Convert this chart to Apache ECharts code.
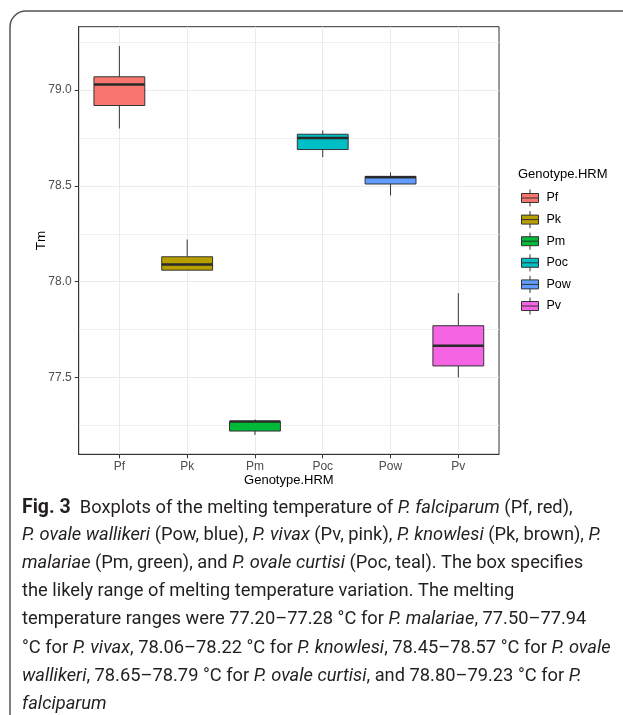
<!DOCTYPE html>
<html>
<head>
<meta charset="utf-8">
<script src="https://cdn.jsdelivr.net/npm/echarts@6/dist/echarts.min.js"></script>
<style>
  html, body { margin: 0; padding: 0; background: #fff; }
  #chart { width: 623px; height: 715px; }
</style>
</head>
<body>
<div id="chart"></div>
<script>
// Boxplot data
var categories = ['Pf', 'Pk', 'Pm', 'Poc', 'Pow', 'Pv'];
var mins    = [78.80, 78.06, 77.20, 78.65, 78.45, 77.50];
var q1s     = [78.92, 78.06, 77.22, 78.69, 78.51, 77.56];
var medians = [79.03, 78.09, 77.27, 78.75, 78.545, 77.665];
var q3s     = [79.07, 78.13, 77.27, 78.77, 78.55, 77.77];
var maxs    = [79.23, 78.22, 77.28, 78.79, 78.57, 77.94];
var colors  = ['#F8766D', '#B79F00', '#00BA38', '#00BFC4', '#619CFF', '#F564E3'];

var yMajor = [77.5, 78.0, 78.5, 79.0];
var yMinor = [77.25, 77.75, 78.25, 78.75, 79.25];
var xTicks = [1, 2, 3, 4, 5, 6];

var chart = echarts.init(document.getElementById('chart'));

// box + whiskers, ggplot style (no whisker caps)
function renderBox(params, api) {
  var x = api.value(0);
  var pMin = api.coord([x, api.value(1)]);
  var pQ1 = api.coord([x, api.value(2)]);
  var pMed = api.coord([x, api.value(3)]);
  var pQ3 = api.coord([x, api.value(4)]);
  var pMax = api.coord([x, api.value(5)]);
  var w = api.size([0.75, 0])[0];
  var cx = pMed[0];
  var fill = api.visual('color');
  return {
    type: 'group',
    children: [
      { type: 'line', shape: { x1: cx, y1: pMax[1], x2: cx, y2: pQ3[1] }, style: { stroke: '#333', lineWidth: 1 } },
      { type: 'line', shape: { x1: cx, y1: pQ1[1], x2: cx, y2: pMin[1] }, style: { stroke: '#333', lineWidth: 1 } },
      { type: 'rect', shape: { x: cx - w / 2, y: pQ3[1], width: w, height: pQ1[1] - pQ3[1] }, style: { fill: fill, stroke: '#333', lineWidth: 1 } },
      { type: 'line', shape: { x1: cx - w / 2, y1: pMed[1], x2: cx + w / 2, y2: pMed[1] }, style: { stroke: '#2a2a2a', lineWidth: 2.4 } }
    ]
  };
}

var series = categories.map(function (c, i) {
  return {
    name: c,
    type: 'custom',
    renderItem: renderBox,
    itemStyle: { color: colors[i] },
    encode: { x: 0, y: [1, 2, 3, 4, 5] },
    data: [[i + 1, mins[i], q1s[i], medians[i], q3s[i], maxs[i]]]
  };
});

var yMin = 77.0985, yMax = 79.3315;

var captionLines = [
  '{b|Fig. 3}  Boxplots of the melting temperature of {i|P. falciparum} (Pf, red),',
  '{i|P. ovale wallikeri} (Pow, blue), {i|P. vivax} (Pv, pink), {i|P. knowlesi} (Pk, brown), {i|P.}',
  '{i|malariae} (Pm, green), and {i|P. ovale curtisi} (Poc, teal). The box specifies',
  'the likely range of melting temperature variation. The melting',
  'temperature ranges were 77.20\u201377.28 \u00b0C for {i|P. malariae}, 77.50\u201377.94',
  '\u00b0C for {i|P. vivax}, 78.06\u201378.22 \u00b0C for {i|P. knowlesi}, 78.45\u201378.57 \u00b0C for {i|P. ovale}',
  '{i|wallikeri}, 78.65\u201378.79 \u00b0C for {i|P. ovale curtisi}, and 78.80\u201379.23 \u00b0C for {i|P.}',
  '{i|falciparum}'
];

var graphics = [
  { type: 'rect', z: -1, shape: { x: 10, y: 11, width: 700, height: 730, r: 16 },
    style: { fill: 'none', stroke: '#555', lineWidth: 1.5 } },
  { type: 'text', left: 518, top: 168,
    style: { text: 'Genotype.HRM', font: '13px "Liberation Sans"', fill: '#000' } }
];
captionLines.forEach(function (t, k) {
  graphics.push({
    type: 'text', left: 22, top: 498 + k * 28.2,
    style: {
      text: t, fill: '#231f20', fontFamily: 'Roboto', fontSize: 18.3,
      rich: {
        b: { fontWeight: 'bold', fontFamily: 'Roboto', fontSize: 19.5, fill: '#231f20' },
        i: { fontStyle: 'italic', fontFamily: 'Roboto', fontSize: 18.3, fill: '#231f20' }
      }
    }
  });
});

var option = {
  animation: false,
  backgroundColor: '#fff',
  textStyle: { fontFamily: 'Liberation Sans' },
  grid: {
    left: 78.7, top: 26.7, right: 124, bottom: 260.7,
    show: true, borderColor: '#333', borderWidth: 1, backgroundColor: '#fff'
  },
  legend: {
    orient: 'vertical',
    left: 516, top: 184,
    itemWidth: 17, itemHeight: 17, itemGap: 3.6,
    selectedMode: false,
    icon: 'path://M0,4H17V13H0Z M0,8.5H17 M8.5,0V4 M8.5,13V17',
    itemStyle: { borderColor: '#333', borderWidth: 1 },
    textStyle: { fontSize: 12.5, color: '#000', fontFamily: 'Liberation Sans', padding: [0, 0, 0, 3] },
    data: categories
  },
  xAxis: {
    type: 'value',
    min: 0.4, max: 6.6,
    name: 'Genotype.HRM',
    nameLocation: 'middle',
    nameGap: 20,
    nameMoveOverlap: false,
    nameTextStyle: { fontSize: 13, color: '#000' },
    axisLine: { show: true, onZero: false, lineStyle: { color: '#333' } },
    axisTick: { show: true, length: 4, customValues: xTicks, lineStyle: { color: '#333' } },
    axisLabel: {
      customValues: xTicks, margin: 6, fontSize: 12, color: '#4d4d4d',
      formatter: function (v) { return categories[Math.round(v) - 1]; }
    },
    splitLine: { show: true, customValues: xTicks, lineStyle: { color: '#ebebeb', width: 1 } }
  },
  yAxis: [{
    type: 'value',
    min: yMin, max: yMax,
    name: 'Tm',
    nameLocation: 'middle',
    nameGap: 30.5,
    nameMoveOverlap: false,
    nameTextStyle: { fontSize: 13.5, color: '#000' },
    axisLine: { show: true, onZero: false, lineStyle: { color: '#333' } },
    axisTick: { show: true, length: 4, customValues: yMajor, lineStyle: { color: '#333' } },
    axisLabel: {
      customValues: yMajor, margin: 7, fontSize: 12, color: '#4d4d4d',
      formatter: function (v) { return v.toFixed(1); }
    },
    splitLine: { show: true, customValues: yMajor, lineStyle: { color: '#ebebeb', width: 1 } }
  }, {
    type: 'value',
    min: yMin, max: yMax,
    position: 'left',
    axisLine: { show: false },
    axisTick: { show: false, customValues: yMinor },
    axisLabel: { show: false, customValues: yMinor },
    splitLine: { show: true, customValues: yMinor, lineStyle: { color: '#f0f0f0', width: 1 } }
  }],
  graphic: graphics,
  series: series
};

chart.setOption(option);
</script>
</body>
</html>
